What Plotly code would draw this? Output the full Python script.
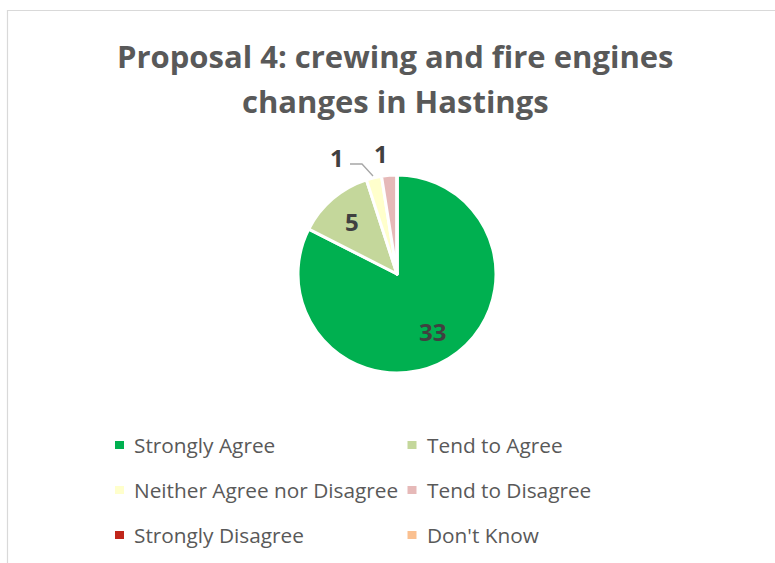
import math
import plotly.graph_objects as go

# Survey responses for Proposal 4
categories = ["Strongly Agree", "Tend to Agree", "Neither Agree nor Disagree",
              "Tend to Disagree", "Strongly Disagree", "Don't Know"]
responses = [33, 5, 1, 1, 0, 0]
colors = ["#00B050", "#C4D79B", "#FFFFCC", "#E6B9B8", "#C0261A", "#FAC090"]
title_lines = ["Proposal 4: crewing and fire engines", "changes in Hastings"]

W, H = 775, 563
FONT = "Open Sans"
TITLE_COLOR = "#595959"
LABEL_COLOR = "#404040"

# pie placement in pixels
cx, cy, r = 397, 274, 99


def px(x):
    return x / W


def py(y):
    return 1 - y / H


fig = go.Figure()
fig.add_trace(go.Pie(
    labels=categories,
    values=responses,
    sort=False,
    direction="clockwise",
    rotation=0,
    textinfo="none",
    hoverinfo="label+value",
    marker=dict(colors=colors, line=dict(color="white", width=3)),
    domain=dict(x=[px(cx - r), px(cx + r)], y=[py(cy + r), py(cy - r)]),
    showlegend=False,
))

annotations = []
shapes = []

# title
for i, line in enumerate(title_lines):
    annotations.append(dict(
        x=px(395.5), y=py(56 + 45 * i), xref="paper", yref="paper",
        text=f"<b>{line}</b>", showarrow=False,
        font=dict(family=FONT, size=31, color=TITLE_COLOR),
        xanchor="center", yanchor="middle",
    ))

# value labels: inside labels sit on each slice's mid-angle
total = sum(responses)
cum = 0
mids = []
for v in responses:
    mids.append((cum + v / 2) / total * 2 * math.pi)
    cum += v

inside_k = {0: 0.68, 1: 0.70}
for idx, k in inside_k.items():
    a = mids[idx]
    x = cx + k * r * math.sin(a)
    y = cy - k * r * math.cos(a)
    annotations.append(dict(
        x=px(x), y=py(y), xref="paper", yref="paper",
        text=f"<b>{responses[idx]}</b>", showarrow=False,
        font=dict(family=FONT, size=24, color=LABEL_COLOR),
        xanchor="center", yanchor="middle",
    ))

# outside labels for the thin slices
outside_pos = {2: (337, 158), 3: (381, 153)}
for idx, (x, y) in outside_pos.items():
    annotations.append(dict(
        x=px(x), y=py(y), xref="paper", yref="paper",
        text=f"<b>{responses[idx]}</b>", showarrow=False,
        font=dict(family=FONT, size=24, color=LABEL_COLOR),
        xanchor="center", yanchor="middle",
    ))

# leader line for the "Neither" label
shapes.append(dict(
    type="path", xref="paper", yref="paper",
    path=f"M {px(350)},{py(164)} L {px(362)},{py(164)} L {px(373)},{py(176)}",
    line=dict(color="#A6A6A6", width=1.3),
))

# legend, two columns
col_sq = [119.5, 412]
col_tx = [132, 425]
rows = [445, 490, 535]
for i, (name, col) in enumerate(zip(categories, colors)):
    c, rw = i % 2, i // 2
    sx, sy = col_sq[c], rows[rw]
    shapes.append(dict(
        type="rect", xref="paper", yref="paper",
        x0=px(sx - 4.5), x1=px(sx + 4.5), y0=py(sy + 4), y1=py(sy - 4),
        fillcolor=col, line=dict(width=0),
    ))
    annotations.append(dict(
        x=px(col_tx[c]), y=py(sy), xref="paper", yref="paper",
        text=name, showarrow=False,
        font=dict(family=FONT, size=20.8, color=TITLE_COLOR),
        xanchor="left", yanchor="middle",
    ))

# chart area frame
shapes.append(dict(
    type="rect", xref="paper", yref="paper",
    x0=px(7.5), x1=px(W + 20), y0=py(H + 20), y1=py(10.5),
    line=dict(color="#D9D9D9", width=1.2), fillcolor="rgba(0,0,0,0)",
))

fig.update_layout(
    width=W, height=H,
    margin=dict(l=0, r=0, t=0, b=0),
    paper_bgcolor="white",
    plot_bgcolor="white",
    annotations=annotations,
    shapes=shapes,
)

fig.write_html("out.html")
